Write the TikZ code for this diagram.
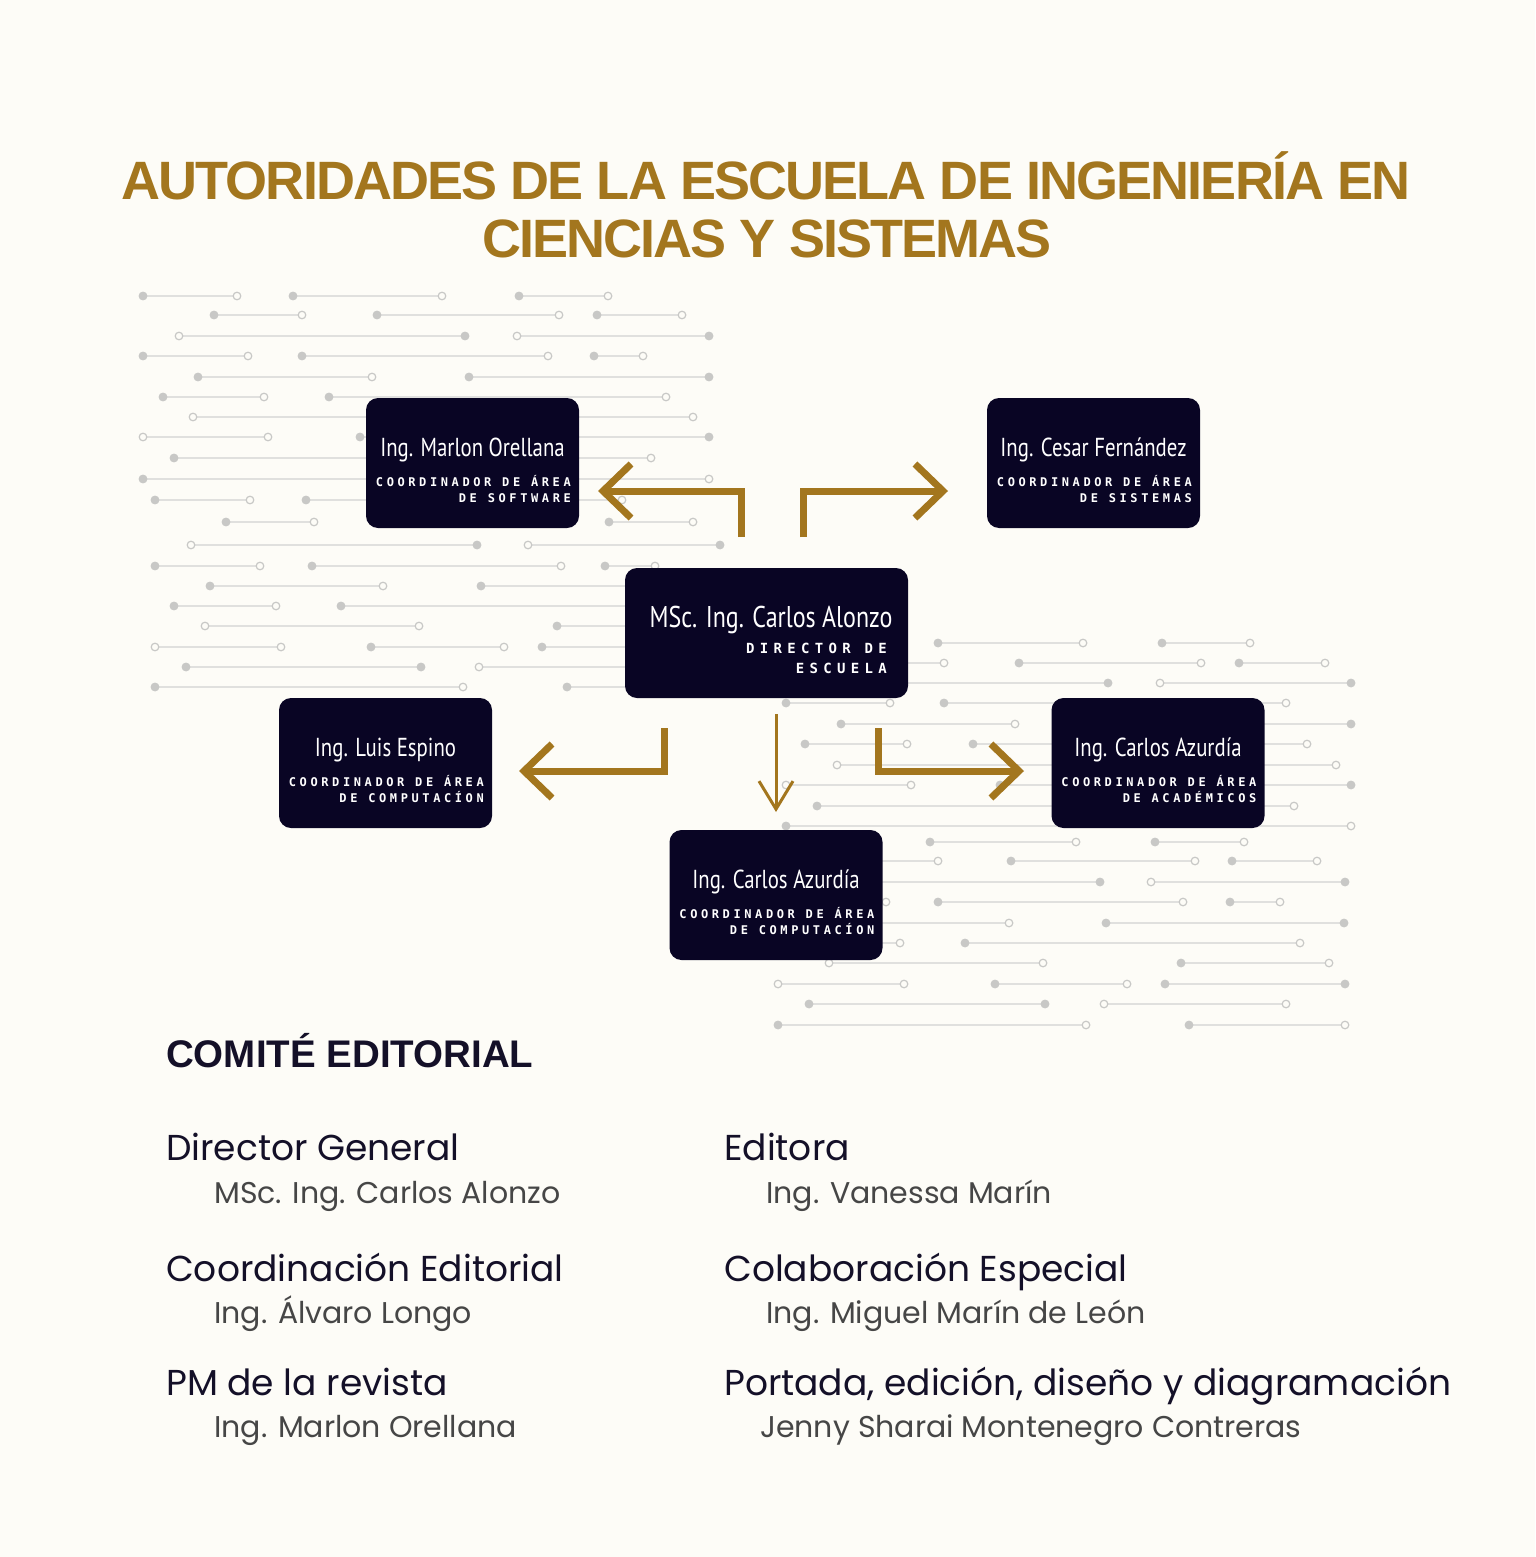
\documentclass[tikz,border=0pt]{standalone}
\usepackage{fontspec}
\usetikzlibrary{arrows.meta}
\setmainfont{Poppins}
\newfontfamily\titlefont[LetterSpace=-3.5]{Liberation Sans}
\newfontfamily\comitefont{Liberation Sans}
\newfontfamily\namefont[FakeStretch=0.8]{PT Sans}
\newfontfamily\rolefont[LetterSpace=30]{DejaVu Sans Mono}
\newfontfamily\dirrolefont[LetterSpace=38]{DejaVu Sans Mono}
\definecolor{paper}{RGB}{253,252,247}
\definecolor{gold}{RGB}{163,118,30}
\definecolor{navy}{RGB}{9,5,36}
\definecolor{trace}{RGB}{224,224,222}
\definecolor{traceDot}{RGB}{200,200,198}
\definecolor{ink}{RGB}{20,16,40}
\definecolor{greyText}{RGB}{70,70,70}
\colorlet{f}{traceDot}
\colorlet{o}{paper}
\begin{document}
\begin{tikzpicture}
[x=1pt,y=-1pt,%
  goldArrow/.style={-{Straight Barb[length=28pt,width=54pt]},line width=7pt,color=gold},%
  thinArrow/.style={-{Straight Barb[length=28pt,width=34pt]},line width=3pt,color=gold},%
  boxDecorate/.style={shape=rectangle,rounded corners=12pt,fill=navy,inner sep=0pt,
    minimum width=213pt,minimum height=130pt},%
  nameText/.style={text=white,inner sep=0pt,font=\namefont\fontsize{26}{28}\selectfont},%
  roleText/.style={text=white,inner sep=0pt,font=\rolefont\bfseries\fontsize{12}{14}\selectfont},%
  titleText/.style={text=gold,inner sep=0pt,font=\titlefont\bfseries\fontsize{54}{60}\selectfont},%
  headText/.style={text=ink,inner sep=0pt,anchor=base west,font=\fontsize{36}{40}\selectfont},%
  subText/.style={text=greyText,inner sep=0pt,anchor=base west,font=\fontsize{30}{34}\selectfont}]
\useasboundingbox (0,0) rectangle (1535,1557);
\fill[paper] (0,0) rectangle (1535,1557);
%% background traces
\foreach \y/\xa/\xb/\ea/\eb in {
  296/143/237/f/o, 296/293/442/f/o, 296/519/608/f/o,
  315/214/302/f/o, 315/377/559/f/o, 315/597/682/f/o,
  336/179/465/o/f, 336/517/709/o/f,
  356/143/248/f/o, 356/302/548/f/o, 356/594/643/f/o,
  377/198/372/f/o, 377/469/709/f/f,
  397/163/264/f/o, 397/329/666/f/o,
  417/193/693/o/o,
  437/143/268/o/o, 437/360/709/f/f,
  458/174/651/f/o,
  479/143/709/f/o,
  500/155/250/f/o, 500/306/622/f/o,
  522/226/314/f/o, 522/609/693/f/o,
  545/191/477/o/f, 545/528/720/o/f,
  566/155/260/f/o, 566/312/561/f/o, 566/605/655/f/o,
  586/210/383/f/o, 586/481/690/f/o,
  606/174/276/f/o, 606/341/690/f/o,
  626/205/419/o/o, 626/557/690/f/o,
  647/155/281/o/o, 647/371/504/f/o, 647/542/690/f/o,
  667/186/421/f/f, 667/479/690/o/o,
  687/155/463/f/o, 687/567/690/f/o,
  643/938/1083/f/o, 643/1162/1250/f/o,
  663/900/944/f/o, 663/1019/1201/f/o, 663/1239/1325/f/o,
  683/900/1108/o/f, 683/1160/1351/o/f,
  703/786/890/f/o, 703/944/1286/f/o,
  724/841/1015/f/o, 724/1060/1351/f/f,
  744/805/907/f/o, 744/973/1307/f/o,
  765/837/1336/o/o,
  785/786/911/o/o, 785/1000/1351/f/f,
  806/817/1294/f/o,
  826/786/1351/f/o,
  842/930/1076/f/o, 842/1155/1244/f/o,
  861/800/938/f/o, 861/1011/1195/f/o, 861/1232/1317/f/o,
  882/800/1100/o/f, 882/1151/1345/o/f,
  902/800/886/f/o, 902/938/1183/f/o, 902/1230/1280/f/o,
  923/800/1009/f/o, 923/1106/1344/f/f,
  943/800/900/f/o, 943/965/1300/f/o,
  963/829/1043/o/o, 963/1181/1329/f/o,
  984/778/904/o/o, 984/995/1127/f/o, 984/1165/1345/f/f,
  1004/809/1045/f/f, 1004/1104/1286/o/o,
  1025/778/1086/f/o, 1025/1189/1345/f/o}
{
  \draw[trace,line width=2.4pt] (\xa,\y) -- (\xb,\y);
  \filldraw[draw=traceDot,line width=1.2pt,fill=\ea] (\xa,\y) circle (3.8);
  \filldraw[draw=traceDot,line width=1.2pt,fill=\eb] (\xb,\y) circle (3.8);
}
%% title
\node (title1) at (766,200) [anchor=base,titleText] {AUTORIDADES DE LA ESCUELA DE INGENIERÍA EN};
\node (title2) at (767,257) [anchor=base,titleText] {CIENCIAS Y SISTEMAS};
%% boxes
\node (director) at (766.5,633) [boxDecorate,minimum width=283pt] {};
\node (director-name) at (771,627) [anchor=base,nameText,font=\namefont\fontsize{30}{32}\selectfont] {MSc. Ing. Carlos Alonzo};
\node (director-roleA) at (887,653) [anchor=base east,roleText,font=\dirrolefont\bfseries\fontsize{14}{16}\selectfont] {DIRECTOR DE};
\node (director-roleB) at (887,673) [anchor=base east,roleText,font=\dirrolefont\bfseries\fontsize{14}{16}\selectfont] {ESCUELA};
\foreach \nodename/\x/\y/\who/\areaA/\areaB in {
  marlon/472.5/463/Ing. Marlon Orellana/COORDINADOR DE ÁREA/DE SOFTWARE,
  cesar/1093.5/463/Ing. Cesar Fernández/COORDINADOR DE ÁREA/DE SISTEMAS,
  luis/385.5/763/Ing. Luis Espino/COORDINADOR DE ÁREA/DE COMPUTACÍON,
  azurdiaR/1158/763/Ing. Carlos Azurdía/COORDINADOR DE ÁREA/DE ACADÉMICOS,
  azurdiaB/776/895/Ing. Carlos Azurdía/COORDINADOR DE ÁREA/DE COMPUTACÍON}
{
  \node (\nodename) at (\x,\y) [boxDecorate] {};
  \node (\nodename-name) at (\x,\y-7) [anchor=base,nameText] {\who};
  \node (\nodename-roleA) at (\x+98.5,\y+23) [anchor=base east,roleText] {\areaA};
  \node (\nodename-roleB) at (\x+98.5,\y+39) [anchor=base east,roleText] {\areaB};
}
%% arrows
\coordinate (softStart) at (741,537);
\coordinate (softTip) at (598,491);
\coordinate (sysStart) at (803,537);
\coordinate (sysTip) at (948,491);
\coordinate (compStart) at (664,728);
\coordinate (compTip) at (519,771);
\coordinate (acadStart) at (878,728);
\coordinate (acadTip) at (1024,771);
\coordinate (downStart) at (776,714);
\coordinate (downTip) at (776,812);
\draw[goldArrow] (softStart) |- (softTip);
\draw[goldArrow] (sysStart) |- (sysTip);
\draw[goldArrow] (compStart) |- (compTip);
\draw[goldArrow] (acadStart) |- (acadTip);
\draw[thinArrow] (downStart) -- (downTip);
%% editorial
\node (comite) at (166,1067) [anchor=base west,text=ink,inner sep=0pt,
  font=\comitefont\bfseries\fontsize{38.5}{42}\selectfont] {COMITÉ EDITORIAL};
\foreach \nodename/\x/\y/\txt in {
  headA/166/1160/Director General, headB/166/1281/Coordinación Editorial,
  headC/166/1395/PM de la revista, headD/724/1160/Editora,
  headE/724/1281/Colaboración Especial,
  headF/724/1395/{Portada, edición, diseño y diagramación}}
{
  \node (\nodename) at (\x,\y) [headText] {\txt};
}
\foreach \nodename/\x/\y/\txt in {
  subA/214/1203/MSc. Ing. Carlos Alonzo, subB/214/1323/Ing. Álvaro Longo,
  subC/214/1437/Ing. Marlon Orellana, subD/766/1203/Ing. Vanessa Marín,
  subE/766/1323/Ing. Miguel Marín de León,
  subF/760/1437/Jenny Sharai Montenegro Contreras}
{
  \node (\nodename) at (\x,\y) [subText] {\txt};
}
\end{tikzpicture}
\end{document}
